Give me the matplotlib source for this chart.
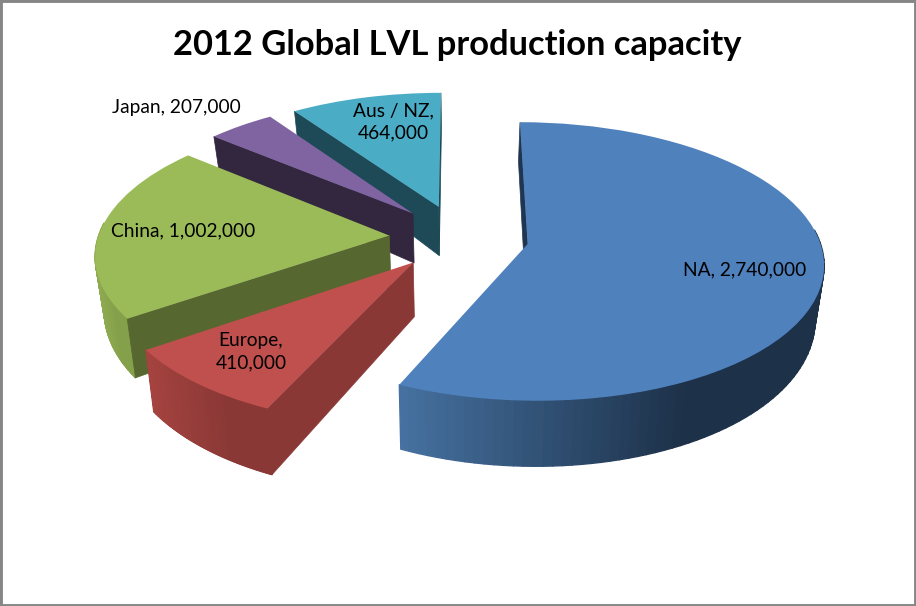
import numpy as np
import matplotlib
matplotlib.use("Agg")
import matplotlib.pyplot as plt
from matplotlib.collections import PolyCollection
from matplotlib.colors import to_rgb
from matplotlib.patches import Rectangle
from matplotlib.transforms import Transform

regions = ["NA", "Europe", "China", "Japan", "Aus / NZ"]
capacity = [2740000, 410000, 1002000, 207000, 464000]
top_colors = ["#4f81bd", "#c0504d", "#9bbb59", "#8064a2", "#4bacc6"]
cut_colors = ["#1f3653", "#8a3836", "#56672f", "#33263f", "#1e4a57"]
rim_light = ["#45709f", "#a5433f", "#90ad52", "#6f5790", "#3f93aa"]
rim_dark = ["#1d3149", "#8a3836", "#84a04a", "#5f4a7c", "#36808f"]

W, H = 916, 606
RADIUS_PX = 291
CX, CY = 459, 237

PERSP = 0.125
TILT = 0.465
DEPTH = 0.178
DEPTH_SLOPE = 0.045
SHRINK = 0.025
FACING = 0.1


def project(x, y, z=0.0):
    # pie plane -> flattened picture units, z = 1 is the underside
    w = 1 + PERSP * y
    sx = x / w * (1 - SHRINK * z)
    sy = TILT * y / w - z * (DEPTH - DEPTH_SLOPE * y)
    return sx, sy


class Tilt(Transform):
    input_dims = 2
    output_dims = 2
    is_separable = False
    has_inverse = False

    def transform_non_affine(self, values):
        sx, sy = project(values[:, 0], values[:, 1])
        return np.column_stack([sx, sy])


fig = plt.figure(figsize=(W / 100, H / 100), dpi=100, facecolor="white")
ax = fig.add_axes([0, 0, 1, 1])

wedges, _ = ax.pie(
    capacity,
    colors=top_colors,
    startangle=90,
    counterclock=False,
    explode=[0.24] * len(capacity),
    radius=1,
)
ax.set_aspect("auto")
ax.set_xlim(-CX / RADIUS_PX, (W - CX) / RADIUS_PX)
ax.set_ylim(-(H - CY) / RADIUS_PX, CY / RADIUS_PX)
ax.axis("off")

tilt = Tilt()
draw_order = [4, 3, 2, 1, 0]
for level, i in enumerate(draw_order):
    wedge = wedges[i]
    zbase = 2 + level * 3
    cx0, cy0 = wedge.center
    r = wedge.r
    thetas = np.radians(np.linspace(wedge.theta1, wedge.theta2, 120))
    px = cx0 + r * np.cos(thetas)
    py = cy0 + r * np.sin(thetas)

    # outer rim in short strips, shaded from left to right; only the side facing us
    tx, ty = project(px, py)
    bx, by = project(px, py, 1)
    quads = []
    shades = []
    light = np.array(to_rgb(rim_light[i]))
    dark = np.array(to_rgb(rim_dark[i]))
    keep = [k for k in range(len(px) - 1) if np.sin(thetas[k]) < FACING]
    if keep:
        x_lo, x_hi = tx[keep].min(), tx[keep].max()
    for k in keep:
        quads.append([(tx[k], ty[k]), (tx[k + 1], ty[k + 1]), (bx[k + 1], by[k + 1]), (bx[k], by[k])])
        t = (tx[k] - x_lo) / (x_hi - x_lo)
        shades.append(light + (dark - light) * min(1, t * 1.5))
    if quads:
        ax.add_collection(PolyCollection(quads, facecolors=shades, edgecolors=shades, linewidths=1.0, zorder=zbase))

    # flat cut faces, apex to arc end, skipping the ones turned away
    for k, outward in ((0, thetas[0] - np.pi / 2), (-1, thetas[-1] + np.pi / 2)):
        if np.sin(outward) > FACING:
            continue
        a_top = project(cx0, cy0)
        a_bot = project(cx0, cy0, 1)
        e_top = project(px[k], py[k])
        e_bot = project(px[k], py[k], 1)
        ax.fill(
            [a_top[0], e_top[0], e_bot[0], a_bot[0]],
            [a_top[1], e_top[1], e_bot[1], a_bot[1]],
            color=cut_colors[i], lw=0.5, zorder=zbase + 1,
        )

    wedge.set_transform(tilt + ax.transData)
    wedge.set_edgecolor("none")
    wedge.set_zorder(zbase + 2)

font = "Lato"
label_px = [(745, 270), (251, 352), (183, 231), (176, 108), (393, 122)]
label_text = [
    f"{regions[0]}, {capacity[0]:,}",
    f"{regions[1]},\n{capacity[1]:,}",
    f"{regions[2]}, {capacity[2]:,}",
    f"{regions[3]}, {capacity[3]:,}",
    f"{regions[4]},\n{capacity[4]:,}",
]
for (lx, ly), txt in zip(label_px, label_text):
    fig.text(lx / W, 1 - ly / H, txt, ha="center", va="center", family=font,
             fontsize=13.8, color="black", linespacing=1.4, zorder=50)

fig.text(457 / W, 1 - 45 / H, "2012 Global LVL production capacity", ha="center", va="center",
         family=font, fontweight="bold", fontsize=24.8, color="black")

fig.patches.append(Rectangle((0, 0), 1, 1, transform=fig.transFigure, fill=False,
                             edgecolor="#868686", linewidth=3.5, figure=fig))

fig.savefig("out.png", dpi=100)
